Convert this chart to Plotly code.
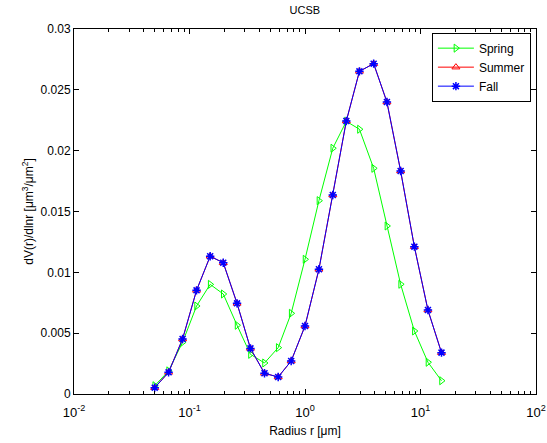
import plotly.graph_objects as go

radius = [0.0500, 0.0659, 0.0871, 0.1151, 0.151, 0.196, 0.258, 0.337, 0.446, 0.586,
          0.759, 1.00, 1.32, 1.74, 2.28, 2.96, 3.93, 5.12, 6.73, 8.85, 11.6, 15.2]

spring = [0.00068, 0.0019, 0.00425, 0.00723, 0.00901, 0.00822, 0.00565, 0.00326, 0.00255, 0.00381,
          0.00663, 0.01107, 0.01589, 0.0202, 0.02241, 0.02176, 0.01855, 0.01381, 0.00902, 0.00518,
          0.00261, 0.00109]

summer = [0.00052, 0.00178, 0.00452, 0.00852, 0.01132, 0.01079, 0.00745, 0.00375, 0.0017, 0.0014,
          0.00271, 0.00559, 0.01025, 0.01636, 0.02244, 0.02652, 0.02715, 0.0240, 0.01833, 0.01211,
          0.0069, 0.0034]

fall = [0.00052, 0.00178, 0.00452, 0.00852, 0.01132, 0.01079, 0.00745, 0.00375, 0.0017, 0.0014,
        0.00271, 0.00559, 0.01025, 0.01636, 0.02244, 0.02652, 0.02715, 0.0240, 0.01833, 0.01211,
        0.0069, 0.0034]

x_tickvals = [0.01, 0.1, 1, 10, 100]
x_ticktext = ["10<sup>-2</sup>", "10<sup>-1</sup>", "10<sup>0</sup>", "10<sup>1</sup>", "10<sup>2</sup>"]
y_tickvals = [0, 0.005, 0.01, 0.015, 0.02, 0.025, 0.03]
y_ticktext = ["0", "0.005", "0.01", "0.015", "0.02", "0.025", "0.03"]

font = "Liberation Sans, Arial, sans-serif"

fig = go.Figure()
fig.add_trace(go.Scatter(
    x=radius, y=spring, name="Spring", mode="lines+markers",
    line=dict(color="#00ff00", width=1),
    marker=dict(symbol="triangle-right-open", size=7, color="#00ff00", line=dict(width=1, color="#00ff00")),
))
fig.add_trace(go.Scatter(
    x=radius, y=summer, name="Summer", mode="lines+markers",
    line=dict(color="#ff0000", width=1),
    marker=dict(symbol="triangle-up-open", size=7, color="#ff0000", line=dict(width=1, color="#ff0000")),
))
fig.add_trace(go.Scatter(
    x=radius, y=fall, name="Fall", mode="lines+markers",
    line=dict(color="#0000ff", width=1),
    marker=dict(symbol="asterisk-open", size=7, color="#0000ff", line=dict(width=1.5, color="#0000ff")),
))

fig.update_layout(
    width=547, height=443,
    margin=dict(l=73.5, r=10.7, t=29, b=49, autoexpand=False),
    paper_bgcolor="white", plot_bgcolor="white",
    font=dict(family=font, size=11, color="black"),
    title=dict(text="UCSB", x=(73.5 + 536.3) / 2 / 547, xanchor="center", y=1 - 10 / 443, yanchor="middle",
               font=dict(size=11, family=font)),
    legend=dict(
        x=0.989, y=0.99, xanchor="right", yanchor="top",
        bordercolor="black", borderwidth=1, bgcolor="white",
        font=dict(size=12, family=font), tracegroupgap=0, itemwidth=36,
    ),
    showlegend=True,
)

fig.update_xaxes(
    type="log", range=[-2, 2], automargin=False,
    tickvals=x_tickvals, ticktext=x_ticktext,
    ticks="inside", ticklen=5, tickcolor="black", showline=True, linecolor="black", linewidth=1,
    mirror="ticks", showgrid=False, zeroline=False,
    minor=dict(ticks="inside", ticklen=3, tickcolor="black", dtick="D1", showgrid=False),
    tickfont=dict(size=13, family=font), ticklabelstandoff=6,
    title=dict(text="Radius r [μm]", font=dict(size=12, family=font), standoff=8),
)
fig.update_yaxes(
    range=[0, 0.03], automargin=False, tickvals=y_tickvals, ticktext=y_ticktext,
    ticks="inside", ticklen=5, tickcolor="black", showline=True, linecolor="black", linewidth=1,
    mirror="ticks", showgrid=False, zeroline=False,
    tickfont=dict(size=12, family=font),
    title=dict(text="dV(r)/dlnr [μm<sup>3</sup>/μm<sup>2</sup>]", font=dict(size=12, family=font), standoff=4),
)

fig.write_html("out.html")
